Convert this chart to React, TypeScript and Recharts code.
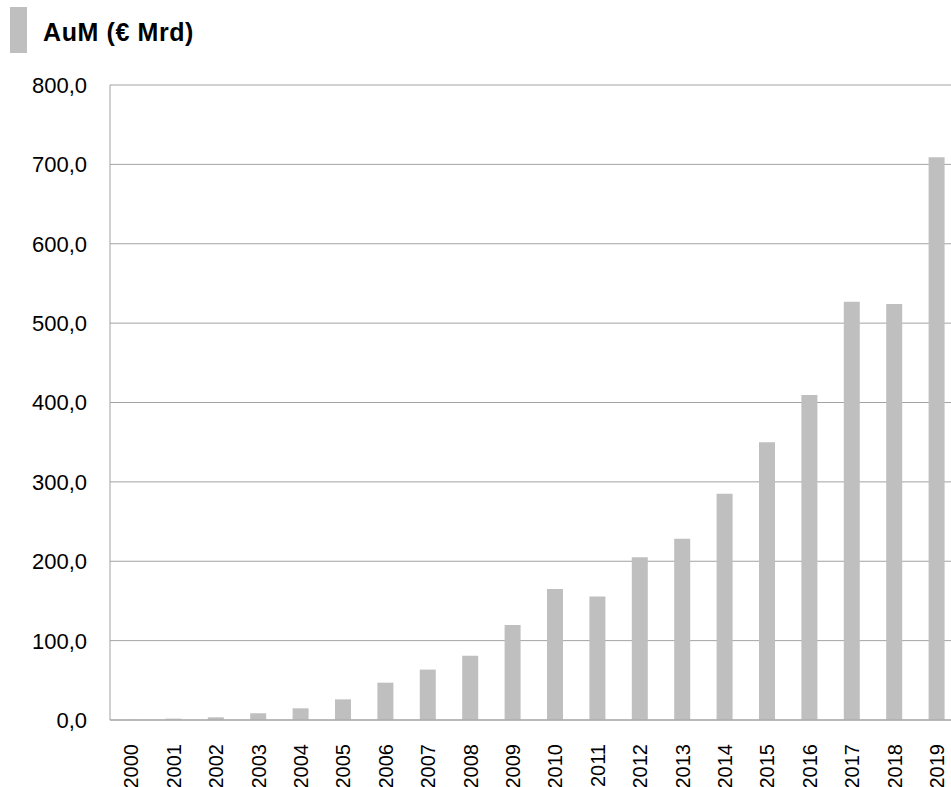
// AuM (€ Mrd) per year, 2000-2019, as grey columns.
import { Bar, BarChart, CartesianGrid, XAxis, YAxis } from "recharts";

const YEARS = [
  "2000", "2001", "2002", "2003", "2004", "2005", "2006", "2007", "2008", "2009",
  "2010", "2011", "2012", "2013", "2014", "2015", "2016", "2017", "2018", "2019",
];
const AUM = [
  0.3, 1.7, 3.4, 8.4, 14.7, 26, 47, 63.5, 81, 119.6,
  165, 155.5, 205, 228.5, 285, 350, 409.5, 527, 524, 709,
];
const Y_TICKS = [0, 100, 200, 300, 400, 500, 600, 700, 800];

const BAR_COLOR = "#bfbfbf";
const GRID_COLOR = "#a3a3a3";
const FONT = "Liberation Sans, Arial, sans-serif";

const data = YEARS.map((year, i) => ({ year, aum: AUM[i] }));

const fmt = (v: number) => v.toFixed(1).replace(".", ",");

function YTick({ x, y, payload }: any) {
  return (
    <text x={x - 15} y={y} dy="0.36em" textAnchor="end" fontSize={22} fill="#000" fontFamily={FONT}>
      {fmt(payload.value)}
    </text>
  );
}

function XTick({ x, y, payload }: any) {
  return (
    <g transform={`translate(${x},${y + 16}) rotate(-90)`}>
      <text x={0} y={0} dy="0.36em" textAnchor="end" fontSize={20} fill="#000" fontFamily={FONT}>
        {payload.value}
      </text>
    </g>
  );
}

export default function App() {
  return (
    <div
      style={{
        position: "absolute",
        left: 0,
        top: 0,
        width: 951,
        height: 787,
        overflow: "hidden",
        background: "#fff",
        fontFamily: FONT,
      }}
    >
      <div style={{ position: "absolute", left: 10, top: 7, width: 17, height: 46, background: BAR_COLOR }} />
      <div
        style={{
          position: "absolute",
          left: 43,
          top: 17,
          fontSize: 25,
          fontWeight: "bold",
          letterSpacing: 0.6,
          color: "#000",
          lineHeight: "30px",
        }}
      >
        AuM (€ Mrd)
      </div>
      <div style={{ position: "absolute", left: 0, top: 0 }}>
        <BarChart
          width={960}
          height={787}
          data={data}
          margin={{ top: 85, right: 2, bottom: 0, left: 0 }}
        >
          <CartesianGrid stroke={GRID_COLOR} vertical={false} />
          <XAxis
            dataKey="year"
            height={67}
            interval={0}
            tickLine={false}
            axisLine={{ stroke: GRID_COLOR }}
            tick={<XTick />}
          />
          <YAxis
            width={110}
            domain={[0, 800]}
            ticks={Y_TICKS}
            tickLine={false}
            axisLine={{ stroke: GRID_COLOR }}
            tick={<YTick />}
          />
          <Bar dataKey="aum" fill={BAR_COLOR} barSize={16} isAnimationActive={false} />
        </BarChart>
      </div>
    </div>
  );
}
